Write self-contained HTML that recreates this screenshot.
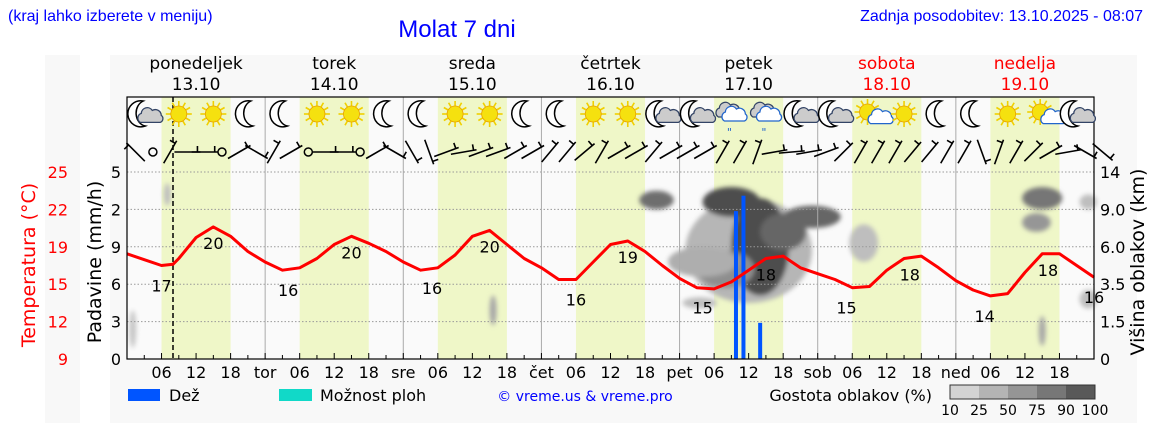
<!DOCTYPE html>
<html><head><meta charset="utf-8">
<style>
html,body{margin:0;padding:0;background:#fff;}
body{width:1152px;height:443px;overflow:hidden;position:relative;}
svg text{font-family:"DejaVu Sans","Liberation Sans",sans-serif;}
</style></head>
<body>
<svg id="chart" width="1152" height="443" viewBox="0 0 1152 443" xmlns="http://www.w3.org/2000/svg">
<defs>
<filter id="blur" x="-50%" y="-50%" width="200%" height="200%"><feGaussianBlur stdDeviation="2.5"/></filter>
</defs>
<rect x="45" y="55" width="35" height="368" fill="#f8f8f8"/>
<rect x="110" y="55" width="1027" height="368" fill="#f8f8f8"/>
<text x="8" y="21" fill="#0000ff" font-size="16" style="font-family:'Liberation Sans',sans-serif">(kraj lahko izberete v meniju)</text>
<text x="457" y="37" fill="#0000ff" font-size="24" text-anchor="middle" style="font-family:'Liberation Sans',sans-serif">Molat 7 dni</text>
<text x="1143" y="21" fill="#0000ff" font-size="16" text-anchor="end" style="font-family:'Liberation Sans',sans-serif">Zadnja posodobitev: 13.10.2025 - 08:07</text>
<g id="plot"></g>
</svg>
<script>
// ---- data ----
const dayNames = ["ponedeljek","torek","sreda","četrtek","petek","sobota","nedelja"];
const dayDates = ["13.10","14.10","15.10","16.10","17.10","18.10","19.10"];
const dayShort = ["tor","sre","čet","pet","sob","ned"];
const tempHours = [0,3,6,8,9,12,15,18,21,24,27,30,33,36,39,42,45,48,51,54,57,60,63,66,69,72,75,78,81,84,87,90,93,96,99,102,105,108,111,114,117,120,123,126,129,132,135,138,141,144,147,150,153,156,159,162,165,168];
const tempValues = [18.0,17.5,17.0,17.1,17.6,19.4,20.3,19.5,18.2,17.3,16.6,16.8,17.6,18.8,19.5,18.9,18.2,17.3,16.6,16.8,17.9,19.5,20.0,18.8,17.6,16.8,15.8,15.8,17.3,18.8,19.1,18.2,17.0,15.9,15.1,15.0,15.6,16.6,17.6,17.8,16.8,16.3,15.8,15.1,15.2,16.6,17.6,17.8,16.8,15.7,14.9,14.4,14.6,16.4,18.0,18.0,17.0,16.0];
const tempLabelHours = [6,15,28,39,53,63,78,87,100,111,125,136,149,160,168];
const tempLabelValues = [17,20,16,20,16,20,16,19,15,18,15,18,14,18,16];
const rainHours = [105.8,107.1,110.0];
const rainValues = [1.95,3.1,0.29];
const rainTicks = [0,0.3,0.6,0.9,2,5];
const rainTickLabels = ["0","3","6","9","2","5"];
const tempTickLabels = ["9","12","15","19","22","25"];
const cloudTickLabels = ["0","1.5","3.5","6.0","9.0","14"];
const iconTypes = ["moon-cloud","sun","sun","moon","moon","sun","sun","moon","moon","sun","sun","moon","moon","sun","sun","moon-cloud","moon-cloud","rain","rain","moon-cloud","moon-cloud","sun-cloud","sun","moon","moon","sun","sun-cloud","moon-cloud"];
const windDirs = [315,0,30,90,90,0,60,120,30,60,0,90,90,0,60,120,150,160,70,80,70,70,60,60,40,40,50,30,60,60,40,60,60,60,30,30,20,80,85,80,70,45,30,30,30,40,40,30,30,160,20,30,45,60,80,120,130,140];
const windSpeeds = [5,0,5,5,5,0,5,5,5,5,0,5,5,0,5,5,5,5,5,5,5,5,5,5,5,5,5,5,5,5,5,5,5,5,5,5,5,5,5,5,5,5,5,5,5,5,5,5,5,5,5,5,5,5,5,5,5,5];
// clouds: hour, level(0-5 grid steps), rx hours, ry levels, density%
const cloudHours = [108,110,105,119,92,128,159,158,159,63.6,99.5,7,1,167,167,104,114,100];
const cloudLevels = [2.9,3.0,4.2,3.8,4.25,3.1,4.3,3.65,0.75,1.3,1.5,4.4,0.8,1.6,4.2,2.4,3.4,2.6];
const cloudRx = [11,5,5,5,3,2.5,3.5,2.5,0.6,0.6,3,0.6,0.6,1.5,1.5,5,4,6];
const cloudRy = [1.4,1.3,0.4,0.3,0.25,0.5,0.3,0.25,0.4,0.4,0.15,0.3,0.5,0.25,0.2,0.5,0.5,0.4];
const cloudDensity = [30,95,95,80,75,25,70,50,40,40,25,25,20,25,25,55,80,35];

// ---- geometry ----
const X0=127, X1=1094, Y0=359, YT=97, STEP=37.4;
const xH = h => X0 + h*(X1-X0)/168;
const yLevel = l => Y0 - l*STEP;
const yTemp = t => Y0 - (t-9)/3.2*STEP;
const yRain = v => { for(let i=1;i<rainTicks.length;i++){ if(v<=rainTicks[i]) return yLevel(i-1+(v-rainTicks[i-1])/(rainTicks[i]-rainTicks[i-1])); } return yLevel(5); };
const NS="http://www.w3.org/2000/svg";
const plot=document.getElementById('plot');
function mk(tag,attrs,parent){const e=document.createElementNS(NS,tag);for(const k in attrs)e.setAttribute(k,attrs[k]);(parent||plot).appendChild(e);return e;}

let bg=mk('rect',{x:X0,y:YT,width:X1-X0,height:Y0-YT,fill:'#fafafa'});


for(let d=0;d<7;d++){
  const b=mk('rect',{x:xH(d*24+6),y:YT,width:xH(18)-xH(6),height:Y0-YT,fill:'#eff7c8'});
  
  
}
const cg=mk('g',{filter:'url(#blur)'});


for(let i=0;i<cloudHours.length;i++){
  const g=Math.round(230-cloudDensity[i]*1.6);
  const e=mk('ellipse',{cx:xH(cloudHours[i]),cy:yLevel(cloudLevels[i]),rx:cloudRx[i]*(X1-X0)/168,ry:cloudRy[i]*STEP,fill:`rgb(${g},${g},${g})`},cg);
  
  
}
for(let i=1;i<=5;i++){mk('line',{x1:X0,x2:X1,y1:yLevel(i),y2:yLevel(i),stroke:'#999','stroke-dasharray':'1.5,2','stroke-width':1});}
for(let d=1;d<7;d++){mk('line',{x1:xH(d*24),x2:xH(d*24),y1:YT,y2:Y0,stroke:'#aaa','stroke-width':1});}
for(let i=0;i<rainHours.length;i++){
  const y=yRain(rainValues[i]);
  const r=mk('rect',{x:xH(rainHours[i])-2,y:y,width:4,height:Y0-y,fill:'#0055ff'});
  
  
}
mk('line',{x1:173,x2:173,y1:YT,y2:Y0,stroke:'#000','stroke-dasharray':'5,3','stroke-width':1.5});
const tl=mk('polyline',{points:tempHours.map((h,i)=>xH(h).toFixed(1)+','+yTemp(tempValues[i]).toFixed(1)).join(' '),fill:'none',stroke:'#ff0000','stroke-width':3,'stroke-linejoin':'round'});


for(let i=0;i<tempLabelHours.length;i++){
  const h=tempLabelHours[i];
  let idx=0;for(let j=0;j<tempHours.length;j++){if(Math.abs(tempHours[j]-h)<Math.abs(tempHours[idx]-h))idx=j;}
  const isMax=i%2===1 && i!==14;
  const y=yTemp(tempValues[idx])+(isMax?22:26);
  const t=mk('text',{x:xH(h),y:y,'font-size':16,'text-anchor':'middle',fill:'#000'});
  t.textContent=tempLabelValues[i];
  
  
}
mk('rect',{x:X0,y:YT,width:X1-X0,height:Y0-YT,fill:'none',stroke:'#000','stroke-width':1.2});
for(let h=0;h<=168;h+=3){mk('line',{x1:xH(h),x2:xH(h),y1:Y0,y2:Y0-(h%6===0?6:4),stroke:'#000','stroke-width':1});}
for(let h=6;h<168;h+=6){
  const hr=h%24; let lab;
  if(hr===0)lab=dayShort[h/24-1];else lab=(hr<10?'0':'')+hr;
  const t=mk('text',{x:xH(h),y:378,'font-size':16,'text-anchor':'middle',fill:'#000'});
  t.textContent=lab;
  
  
}
for(let i=0;i<6;i++){
  let t=mk('text',{x:121,y:yLevel(i)+6,'font-size':16,'text-anchor':'end',fill:'#000'});
  t.textContent=rainTickLabels[i];
  
  
  t=mk('text',{x:68,y:yLevel(i)+6,'font-size':16,'text-anchor':'end',fill:'#ff0000'});
  t.textContent=tempTickLabels[i];
  
  
  t=mk('text',{x:1100,y:yLevel(i)+6,'font-size':16,'text-anchor':'start',fill:'#000'});
  t.textContent=cloudTickLabels[i];
  
  
}
let at=mk('text',{x:0,y:0,'font-size':19,'text-anchor':'middle',fill:'#ff0000',transform:'translate(35,265) rotate(-90)'});
at.textContent='Temperatura (°C)';


at=mk('text',{x:0,y:0,'font-size':19,'text-anchor':'middle',fill:'#000',transform:'translate(101,262) rotate(-90)'});
at.textContent='Padavine (mm/h)';


at=mk('text',{x:0,y:0,'font-size':19,'text-anchor':'middle',fill:'#000',transform:'translate(1144,262) rotate(-90)'});
at.textContent='Višina oblakov (km)';


for(let d=0;d<7;d++){
  const col=d>=5?'#ff0000':'#000';
  let t=mk('text',{x:xH(d*24+12),y:69,'font-size':17,'text-anchor':'middle',fill:col});
  t.textContent=dayNames[d];
  
  
  t=mk('text',{x:xH(d*24+12),y:90,'font-size':17,'text-anchor':'middle',fill:col});
  t.textContent=dayDates[d];
  
  
}
function sun(g,cx,cy){for(let a=0;a<360;a+=30){const r=a*Math.PI/180;mk('line',{x1:cx+8*Math.cos(r),y1:cy+8*Math.sin(r),x2:cx+13*Math.cos(r),y2:cy+13*Math.sin(r),stroke:'#f0d000','stroke-width':1.6},g);}mk('circle',{cx:cx,cy:cy,r:8,fill:'#f5e10f',stroke:'#e8a000','stroke-width':0.8},g);}
function moon(g,cx,cy){mk('path',{d:`M${cx+3},${cy-13} A13,13 0 1,0 ${cx+5},${cy+12} A11,13 0 0,1 ${cx+3},${cy-13} Z`,fill:'#fff',stroke:'#000','stroke-width':1.5},g);}
function cloud(g,cx,cy,s,f,st){mk('path',{d:`M${cx-10*s},${cy+6*s} a5,5 0 0,1 1,-9 a6,6 0 0,1 11,-3 a6,6 0 0,1 9,5 a4,4 0 0,1 -1,7 Z`,fill:f,stroke:st,'stroke-width':1.3},g);}
for(let i=0;i<iconTypes.length;i++){
  const cx=xH(3+i*6),cy=114,tp=iconTypes[i];
  const g=mk('g',{});
  
  
  if(tp==='sun')sun(g,cx,cy);
  else if(tp==='moon')moon(g,cx,cy);
  else if(tp==='moon-cloud'){moon(g,cx-4,cy);cloud(g,cx+5,cy+3,0.9,'#ccc','#346');}
  else if(tp==='sun-cloud'){sun(g,cx-2,cy-2);cloud(g,cx+7,cy+6,0.6,'#fff','#2266cc');}
  else if(tp==='rain'){cloud(g,cx-3,cy-3,1,'#ccc','#346');cloud(g,cx+3,cy+1,1,'#fff','#2266cc');const t=mk('text',{x:cx-2,y:cy+22,'font-size':11,fill:'#2266cc','text-anchor':'middle'},g);t.textContent='"';}
}
for(let i=0;i<windDirs.length && i<57;i++){
  const cx=xH(i*3+1.5),cy=152;
  const g=mk('g',{});
  
  
  if(windSpeeds[i]===0){mk('circle',{cx:cx,cy:cy,r:4,fill:'none',stroke:'#000','stroke-width':1.5},g);continue;}
  const r=(windDirs[i]-90)*Math.PI/180,L=13;
  const x1=cx-L*Math.cos(r),y1=cy-L*Math.sin(r),x2=cx+L*Math.cos(r),y2=cy+L*Math.sin(r);
  mk('line',{x1:x1,y1:y1,x2:x2,y2:y2,stroke:'#000','stroke-width':1.6},g);
  const bx=x2-3*Math.cos(r),by=y2-3*Math.sin(r);
  mk('line',{x1:bx,y1:by,x2:bx+6*Math.cos(r-Math.PI/2),y2:by+6*Math.sin(r-Math.PI/2),stroke:'#000','stroke-width':1.6},g);
}
const lg=mk('g',{});


mk('rect',{x:128,y:389,width:32,height:12,fill:'#0055ff'},lg);
let t=mk('text',{x:169,y:401,'font-size':16,fill:'#000'},lg);t.textContent='Dež';


mk('rect',{x:279,y:389,width:33,height:12,fill:'#11d9c8'},lg);
t=mk('text',{x:320,y:401,'font-size':16,fill:'#000'},lg);t.textContent='Možnost ploh';


t=mk('text',{x:585,y:401,'font-size':14,fill:'#0000ff','text-anchor':'middle'},lg);t.textContent='© vreme.us & vreme.pro';


t=mk('text',{x:932,y:401,'font-size':16,fill:'#000','text-anchor':'end'},lg);t.textContent='Gostota oblakov (%)';


const shades=['#d3d3d3','#b4b4b4','#959595','#777','#595959'];
const shadeLabels=['10','25','50','75','90','100'];
for(let i=0;i<5;i++){mk('rect',{x:950+i*29,y:385,width:29,height:14,fill:shades[i]},lg);}
mk('rect',{x:950,y:385,width:145,height:14,fill:'none',stroke:'#333','stroke-width':1},lg);
for(let i=0;i<6;i++){t=mk('text',{x:950+i*29,y:415,'font-size':14,fill:'#000','text-anchor':'middle'},lg);t.textContent=shadeLabels[i];

}
</script>
</body></html>
